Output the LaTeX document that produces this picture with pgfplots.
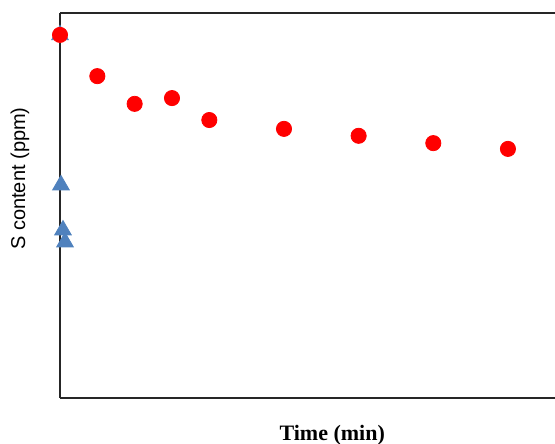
\documentclass[border=0pt]{standalone}
\usepackage{fontspec}
\setmainfont{Liberation Serif}
\newfontfamily\arial{Liberation Sans}
\usepackage{pgfplots}
\pgfplotsset{compat=1.18}
\definecolor{sred}{HTML}{FF0000}
\definecolor{sblue}{HTML}{4F81BD}
\begin{document}
\begin{tikzpicture}
\begin{axis}[
  name=ax,
  scale only axis,
  width=247.5pt,
  height=192.5pt,
  xmin=0, xmax=66.3,
  ymin=0, ymax=100,
  axis lines=left,
  axis line style={draw=black!85, line width=0.6pt, -},
  xtick=\empty, ytick=\empty,
  clip=false,
]
\addplot[only marks, mark=triangle*, mark size=4.8pt, color=sblue]
  coordinates {(0,94.3) (0.13,55.3) (0.4,43.6) (0.67,40.5)};
\addplot[only marks, mark=*, mark size=3.8pt, color=sred]
  coordinates {(0,94.3) (5,83.6) (10,76.4) (15,77.9) (20,72.2)
               (30,69.9) (40,68.1) (50,66.2) (60,64.7)};
\draw[black!85, line width=0.6pt] (rel axis cs:0,1) -- (rel axis cs:1,1);
\node[rotate=90, font=\arial\fontsize{10}{12}\selectfont]
  at ([xshift=-20pt]rel axis cs:0,0.57) {S content (ppm)};
\node[font=\bfseries\fontsize{11}{13}\selectfont]
  at ([yshift=-18.5pt]rel axis cs:0.55,0) {Time (min)};
\end{axis}
\pgfresetboundingbox
\path[use as bounding box] ([xshift=-30pt,yshift=-23pt]ax.south west) rectangle ([yshift=6.5pt]ax.north east);
\end{tikzpicture}
\end{document}
